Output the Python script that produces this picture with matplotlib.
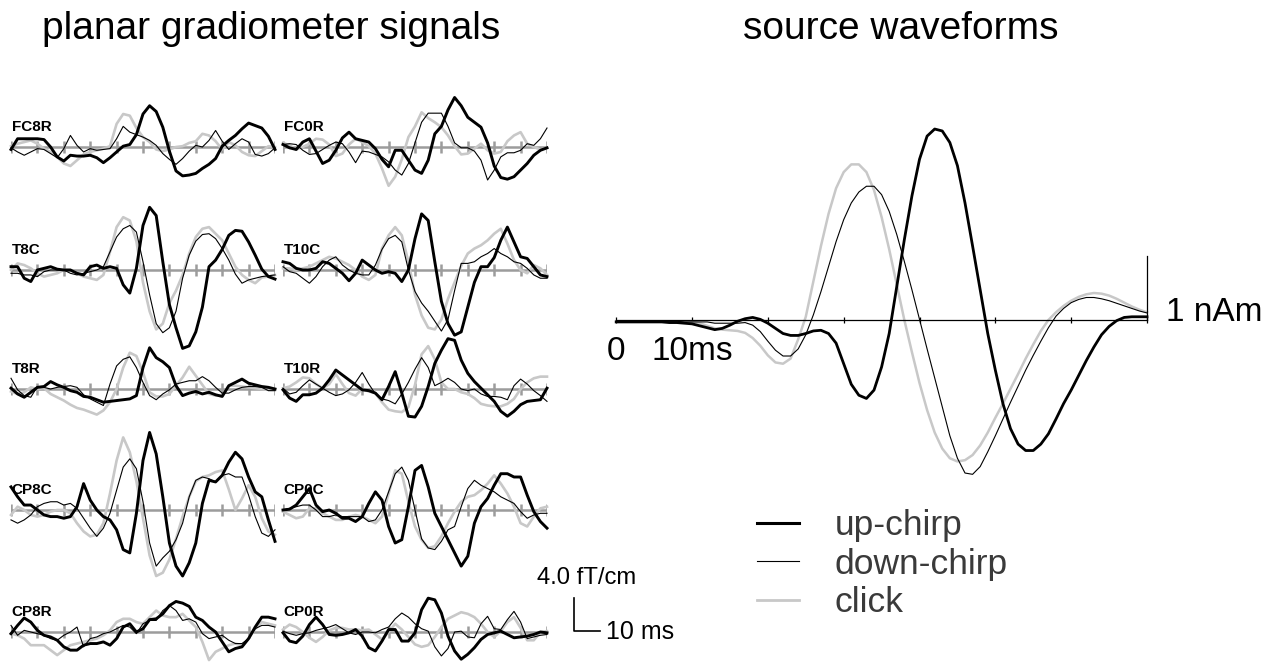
import numpy as np
import matplotlib
matplotlib.use('Agg')
import matplotlib.pyplot as plt
from matplotlib.lines import Line2D

plt.rcParams['font.family'] = ['Liberation Sans', 'DejaVu Sans']

# time axes (ms)
t_grad = np.arange(0, 100.1, 2.5)   # gradiometer traces, one sample per 2.5 ms
t_src = np.arange(0, 71, 1)         # source waveforms, one sample per ms

# planar gradiometer signals (fT/cm): up-chirp / down-chirp / click
fc8r_up = [-0.3, 1.0, 1.0, 1.0, 1.0, 0.9, 0.0, -1.2, -1.7, -1.0, -1.1, -1.1, -1.0, -1.3, -1.9, -1.3, -0.6, 0.1, 0.3, 1.5,
           4.0, 5.0, 4.3, 2.4, -0.5, -2.9, -3.5, -3.4, -3.2, -2.6, -2.1, -1.4, 0.1, 0.8, 1.4, 2.2, 2.9, 2.6, 2.3, 1.3, -0.3]
fc8r_down = [-0.1, -0.6, -1.0, -0.6, -0.2, -0.3, -0.8, -1.3, -0.2, 1.4, 0.2, -0.6, -0.2, -0.4, -0.3, -0.2, 1.0, 2.5, 1.8, 1.5,
             1.2, 0.8, 0.2, -0.8, -1.5, -2.1, -1.4, -0.5, 0.2, 0.0, 0.8, 2.0, 0.7, -0.3, 0.4, 1.0, 0.6, -0.9, -1.1, -0.8, -0.1]
fc8r_click = [0.1, 0.4, 0.6, 0.8, 0.4, -0.2, -0.6, -1.2, -2.0, -2.3, -1.6, -0.9, -0.6, -0.4, -0.2, 0.1, 2.8, 4.0, 3.8, 2.3,
              1.2, 0.6, -0.3, -0.5, -0.3, 0.0, 0.1, 0.5, 0.7, 1.6, 1.4, 0.7, -0.3, 0.6, 0.2, -0.6, -1.0, -1.1, -0.5, 0.1, 0.0]

fc0r_up = [0.3, -0.1, -0.3, 0.6, 1.0, -0.5, -2.0, -1.6, -0.4, 1.1, 1.8, 1.0, 0.8, 0.6, -0.2, -1.5, -2.4, -0.4, -0.4, -1.6,
           -2.8, -3.2, -1.6, 1.6, 2.5, 4.5, 6.0, 5.0, 3.6, 3.0, 2.4, 0.5, -2.3, -3.7, -3.9, -3.6, -2.8, -2.0, -1.0, -0.4, -0.1]
fc0r_down = [0.3, 0.4, 0.3, -0.4, -0.9, -0.8, -0.3, 0.2, 0.6, 0.4, -0.6, -1.9, -0.5, -0.6, -0.9, -1.2, -1.8, -2.8, -3.4, -2.0,
             0.5, 3.0, 4.1, 4.1, 4.1, 2.5, 0.5, -0.1, -0.1, -0.5, -1.6, -4.0, -2.8, -1.2, -0.7, -0.7, -0.4, 0.4, 0.2, 1.0, 2.3]
fc0r_click = [0.5, 0.2, -0.3, 0.0, 0.4, 1.0, 0.9, 0.3, -1.1, -0.8, 0.3, 1.0, 0.6, 0.1, -0.8, -2.6, -4.7, -3.6, -1.5, 1.2,
              2.5, 4.2, 3.5, 3.0, 2.4, 1.4, 0.1, -0.9, -0.8, -0.2, 0.4, -0.4, -0.8, -0.6, 0.7, 1.4, 1.8, 0.4, 0.0, -0.3, -0.1]

t8c_up = [0.4, 0.4, -1.0, -1.4, 0.0, 0.2, 0.4, 0.1, 0.0, 0.0, -0.4, -0.6, 0.4, 0.6, 0.2, 0.4, 0.2, -1.8, -2.8, 0.2,
          5.4, 7.6, 6.6, 1.0, -4.2, -7.0, -9.5, -9.2, -7.5, -4.5, 0.4, 1.2, 2.5, 4.2, 4.8, 4.7, 3.4, 1.8, 0.1, -0.8, -1.1]
t8c_down = [-0.4, -0.4, -0.6, -0.6, -0.8, -0.2, 0.0, 0.0, 0.0, -0.4, -0.6, -0.4, -0.2, 0.0, 0.4, 2.2, 4.0, 5.0, 5.4, 4.6,
            1.0, -3.0, -6.5, -7.6, -7.0, -5.0, -1.0, 1.8, 3.5, 4.3, 4.4, 3.8, 2.6, 1.2, -0.5, -1.6, -1.2, -1.0, -0.8, -0.7, -0.6]
t8c_click = [0.0, 0.8, 0.6, 0.2, -0.4, -0.8, -0.6, -0.4, 0.0, 0.0, -0.4, -0.8, -1.0, -1.2, -0.6, 2.2, 5.2, 6.4, 6.0, 3.5,
             -1.5, -5.0, -7.2, -6.5, -4.0, -2.5, -0.6, 2.0, 4.0, 5.0, 5.2, 4.4, 3.6, 2.0, 0.4, -0.6, -1.2, -1.6, -0.9, -0.8, -0.6]

t10c_up = [1.0, 0.8, 0.2, 0.0, 0.0, 0.2, 1.0, 0.8, 0.2, -0.4, -1.3, -0.4, 1.2, 0.6, 0.0, -0.4, -0.2, -0.4, -1.4, 0.0,
           3.8, 6.8, 6.0, 1.0, -3.8, -6.5, -7.9, -7.5, -4.5, -1.5, 0.4, 0.4, 1.5, 3.6, 5.2, 3.4, 1.6, 1.4, 0.4, -0.6, -0.8]
t10c_down = [0.4, -0.2, -0.4, -1.0, -1.6, -0.8, 0.4, 1.2, 1.6, 0.6, 0.0, -0.4, -0.6, -0.6, 0.6, 2.5, 3.8, 4.2, 3.4, 0.0,
             -2.6, -4.0, -5.0, -6.2, -7.4, -6.0, -2.5, 0.8, 0.8, 1.0, 1.6, 2.0, 2.6, 2.0, 1.6, 1.0, 0.8, 0.2, -0.6, -1.0, -1.0]
t10c_click = [0.2, 0.2, 0.0, 0.2, 0.4, 0.8, 1.2, 1.6, 1.4, 1.0, 0.6, 0.0, -0.8, -1.2, -0.6, 2.6, 4.2, 5.2, 4.2, 1.0,
              -3.0, -5.5, -7.0, -7.2, -6.0, -3.5, -1.5, 0.5, 2.0, 2.6, 3.0, 3.6, 4.4, 5.0, 3.2, 1.2, 0.0, -0.4, 0.6, 0.2, -0.6]

t8r_up = [0.1, -0.6, -1.0, -0.4, 0.2, 0.3, 0.9, 0.5, 0.2, -0.2, -0.4, -0.9, -1.0, -1.3, -1.6, -1.5, -1.4, -1.3, -1.2, -0.8,
          2.6, 5.0, 3.8, 3.3, 2.6, 0.4, -0.8, -0.5, -0.3, -0.6, -0.4, -0.7, -0.9, 0.4, 0.8, 1.2, 0.7, 0.5, 0.3, 0.2, 0.0]
t8r_down = [1.3, -0.1, -0.8, -1.0, 0.3, 0.2, 0.0, 0.2, 0.3, 0.4, 0.2, -0.7, -1.2, -1.6, -2.0, 0.6, 2.8, 3.6, 3.9, 2.6,
            0.8, -0.8, -1.3, -0.6, -0.1, 0.6, 0.8, 1.0, 1.0, 1.5, 1.0, 0.2, -0.5, -0.5, -0.1, 0.2, 0.3, 0.3, 0.2, -0.2, -0.2]
t8r_click = [-0.3, -0.6, -0.4, 0.2, 0.0, 0.1, -0.6, -1.0, -1.4, -1.9, -2.3, -2.5, -2.8, -3.1, -2.6, -1.6, 0.0, 2.6, 4.4, 4.0,
             2.0, -0.4, -0.9, -0.9, -0.6, 0.4, 1.4, 2.7, 1.6, 0.5, -0.6, -0.8, -0.8, 0.4, 0.4, 0.3, 0.2, 0.1, 0.0, -0.1, -0.1]

t10r_up = [-0.1, -1.1, -1.5, -0.7, -0.7, -0.5, 0.1, 1.1, 2.3, 1.7, 1.1, 0.5, -0.1, -0.2, -0.5, -1.3, 0.3, 2.1, -0.5, -3.3,
           -3.4, -2.1, 0.3, 3.1, 4.7, 6.1, 5.9, 3.5, 1.9, 0.9, 0.1, -0.7, -1.5, -2.7, -3.3, -2.7, -1.9, -1.5, -1.4, -1.3, 0.1]
t10r_down = [0.1, -0.6, -0.4, 0.4, 1.1, 0.6, 0.1, -0.4, -0.8, -0.6, -0.1, 0.8, 2.0, 0.6, -0.6, -1.2, -1.4, -1.8, -0.6, 0.8,
             2.4, 3.8, 2.6, 0.4, 0.8, 1.3, 0.8, 0.0, -0.2, 0.0, -0.6, -0.9, -0.9, -1.0, -1.3, 0.4, 1.2, 0.6, -0.2, -0.8, -1.5]
t10r_click = [0.1, 0.3, 0.8, 1.4, 1.3, 0.6, 0.1, 0.6, 1.8, 0.6, -0.5, -0.8, 0.0, -0.3, -0.5, -1.6, -2.5, -2.7, -2.8, -2.2,
              0.5, 4.2, 5.2, 3.6, 0.8, 0.0, 0.0, -0.4, -0.6, -1.1, -1.8, -2.0, -2.1, -2.1, -1.8, -1.2, 0.0, 0.8, 1.3, 1.5, 1.5]

cp8c_up = [2.8, 1.6, 0.6, 0.6, 0.0, -0.6, -0.8, -0.8, -1.0, -0.8, 0.4, 3.2, 1.2, 0.0, -0.8, -1.2, -2.4, -4.8, -5.2, -0.4,
           6.0, 9.4, 6.8, 1.6, -4.0, -6.8, -8.0, -6.4, -4.0, 0.8, 3.6, 3.4, 4.2, 5.8, 7.0, 6.2, 4.0, 2.2, 1.6, -1.2, -3.8]
cp8c_down = [-1.2, -1.6, -1.2, -0.6, 0.4, 0.8, 1.0, 1.0, 0.6, 0.8, 0.2, -1.0, -2.2, -3.2, -2.2, -0.4, 2.4, 5.2, 6.2, 5.0,
             1.0, -4.0, -6.8, -5.8, -5.0, -3.6, -1.6, 1.6, 3.6, 4.0, 3.8, 3.4, 4.2, 4.4, 4.0, 4.0, 1.8, -0.8, -2.8, -3.2, -2.4]
cp8c_click = [-0.6, 0.4, 0.0, -0.6, -0.8, -0.6, -0.2, 0.0, 0.0, -0.4, -1.6, -2.6, -3.2, -3.0, -1.6, 2.0, 6.0, 8.8, 7.0, 3.5,
              -1.0, -5.5, -8.0, -7.6, -6.0, -3.5, -0.8, 1.6, 3.5, 4.0, 4.2, 4.6, 4.8, 2.5, 0.0, 1.4, 3.0, 1.6, -1.0, -2.6, -3.0]

cp0c_up = [0.0, 0.1, 0.6, 1.6, 2.6, 0.6, -0.2, 0.0, -0.4, -1.0, -1.0, -1.4, -0.8, 0.8, 2.2, 1.2, -2.0, -4.0, -3.6, 0.4,
           4.8, 5.4, 2.8, -0.4, -2.0, -3.6, -5.2, -6.8, -5.6, -1.6, 0.4, 1.4, 3.0, 4.4, 4.4, 4.0, 4.0, 1.8, -0.2, -1.4, -2.2]
cp0c_down = [0.0, 0.2, 0.4, 0.6, 0.6, 0.0, -0.8, -0.8, -0.6, -0.8, -0.8, -0.8, -0.8, -1.4, -1.2, 0.0, 2.2, 4.4, 5.2, 3.6,
             0.0, -3.5, -4.6, -4.8, -3.8, -2.4, -2.0, 0.4, 2.6, 3.6, 3.0, 2.6, 2.2, 1.6, 1.2, 0.8, -0.2, -1.0, -0.6, -0.4, -0.4]
cp0c_click = [-0.2, -0.6, -1.0, -0.8, 0.2, 0.2, -0.4, -0.8, -1.2, -1.2, -0.8, -0.6, -0.8, -1.2, -1.6, -0.8, 2.0, 4.8, 4.4, 1.0,
              -2.0, -3.6, -4.6, -4.4, -3.2, -1.6, -0.2, 1.0, 1.6, 1.8, 2.4, 3.2, 4.2, 3.2, 2.0, 0.4, -1.6, -2.0, -0.8, 0.2, 0.4]

cp8r_up = [-0.2, 0.8, 1.7, 1.2, 0.2, -0.4, -0.6, -1.0, -1.8, -2.2, -2.2, -1.6, -1.4, -1.4, -1.2, -1.6, -0.8, 0.6, 1.0, 0.0,
           0.4, 1.5, 1.6, 2.2, 3.2, 3.7, 3.5, 3.1, 1.8, 1.4, 0.6, 0.0, -1.2, -2.4, -2.0, -1.8, -0.8, 0.6, 1.8, 1.8, 1.6]
cp8r_down = [0.8, -0.4, 0.2, 0.0, -0.2, -0.4, -0.8, -1.0, -0.4, 0.0, 0.6, -1.8, -0.8, -0.6, -0.2, 0.0, 0.4, 0.8, 0.6, -0.2,
             1.0, 1.4, 1.4, 2.6, 3.2, 2.6, 1.4, 1.6, 1.2, -0.2, -0.8, -0.6, -0.4, -1.0, -1.4, -1.4, -0.8, 0.4, 0.8, 0.8, 0.6]
cp8r_click = [-0.2, -0.4, -0.8, -1.6, -1.6, -1.6, -2.2, -2.8, -2.2, -1.6, -1.4, -1.2, -1.0, -0.8, -0.4, 0.2, 1.2, 1.6, 1.6, 1.2,
              1.0, 1.8, 2.6, 2.0, 1.8, 1.8, 2.2, 1.4, 0.6, -1.2, -3.4, -2.4, -2.0, -1.6, -1.4, -1.6, -0.8, 0.4, 1.2, 1.0, 0.8]

cp0r_up = [-0.1, -1.1, -1.3, -0.5, 0.9, 1.8, 0.9, -0.3, -0.4, -0.3, -0.1, 0.3, -0.5, -1.9, -2.3, -1.1, 0.3, 0.3, -1.1, -1.1,
           -0.1, 2.7, 4.1, 3.9, 2.3, -0.5, -2.3, -3.3, -2.7, -1.9, -0.9, -0.3, -0.1, 0.1, -0.3, -0.7, -0.6, -0.5, -0.3, 0.0, -0.1]
cp0r_down = [0.1, -0.2, -0.4, -0.2, -0.1, 0.2, 0.4, 0.6, 0.9, 0.4, -0.1, -0.3, 0.0, 0.0, -0.1, 0.3, 0.6, 1.6, 2.3, 1.8,
             1.0, 0.4, 0.1, -1.8, -2.9, -2.0, 0.0, 0.1, -0.6, -0.7, 1.0, 1.9, 0.4, 0.3, 1.5, 2.5, 1.2, -0.8, -0.6, -0.4, -0.3]
cp0r_click = [0.3, 0.9, 0.6, 0.0, -0.7, -1.2, -0.6, 0.2, 0.5, 0.5, 0.3, 0.3, 0.2, 0.3, -0.3, -0.9, 0.0, 1.0, 0.3, -0.6,
              -1.5, -1.8, -1.6, -0.6, 0.6, 1.6, 2.0, 2.4, 2.2, 1.8, 1.0, 0.0, -0.6, 0.1, 1.2, 1.8, 0.5, -1.0, -1.0, 0.0, 0.1]

channels = ['FC8R', 'FC0R', 'T8C', 'T10C', 'T8R', 'T10R', 'CP8C', 'CP0C', 'CP8R', 'CP0R']
grad_up = [fc8r_up, fc0r_up, t8c_up, t10c_up, t8r_up, t10r_up, cp8c_up, cp0c_up, cp8r_up, cp0r_up]
grad_down = [fc8r_down, fc0r_down, t8c_down, t10c_down, t8r_down, t10r_down, cp8c_down, cp0c_down, cp8r_down, cp0r_down]
grad_click = [fc8r_click, fc0r_click, t8c_click, t10c_click, t8r_click, t10r_click, cp8c_click, cp0c_click, cp8r_click, cp0r_click]

# source waveforms (nAm)
src_up = [-0.03, -0.03, -0.03, -0.03, -0.03, -0.03, -0.03, -0.04, -0.04, -0.05, -0.06, -0.09, -0.12, -0.15, -0.13, -0.08,
          -0.02, 0.02, 0.04, 0.01, -0.05, -0.13, -0.21, -0.24, -0.24, -0.21, -0.17, -0.16, -0.21, -0.36, -0.68, -1.0,
          -1.17, -1.22, -1.09, -0.73, -0.21, 0.52, 1.25, 1.93, 2.5, 2.86, 2.97, 2.94, 2.76, 2.4, 1.82, 1.15, 0.47, -0.21,
          -0.78, -1.3, -1.69, -1.93, -2.03, -2.03, -1.93, -1.77, -1.54, -1.3, -1.09, -0.86, -0.63, -0.42, -0.23, -0.1,
          -0.01, 0.04, 0.05, 0.05, 0.05]
src_down = [-0.02, -0.02, -0.02, -0.02, -0.02, -0.02, -0.02, -0.02, -0.02, -0.03, -0.03, -0.03, -0.03, -0.05, -0.05,
            -0.05, -0.05, -0.04, -0.08, -0.18, -0.33, -0.47, -0.56, -0.56, -0.45, -0.23, 0.08, 0.44, 0.83, 1.22, 1.56,
            1.82, 1.99, 2.08, 2.08, 1.95, 1.69, 1.33, 0.91, 0.47, 0.01, -0.45, -0.9, -1.35, -1.8, -2.15, -2.38, -2.4,
            -2.28, -2.05, -1.8, -1.54, -1.28, -1.03, -0.78, -0.55, -0.33, -0.12, 0.06, 0.18, 0.27, 0.32, 0.35, 0.35,
            0.33, 0.3, 0.26, 0.22, 0.18, 0.14, 0.11]
src_click = [-0.02, -0.02, -0.02, -0.02, -0.02, -0.02, -0.02, -0.02, -0.02, -0.02, -0.03, -0.05, -0.09, -0.13, -0.15,
             -0.16, -0.17, -0.2, -0.28, -0.4, -0.55, -0.66, -0.68, -0.6, -0.3, 0.05, 0.6, 1.15, 1.65, 2.05, 2.3, 2.42,
             2.42, 2.3, 2.02, 1.6, 1.1, 0.55, 0.0, -0.5, -0.98, -1.4, -1.75, -2.0, -2.15, -2.2, -2.18, -2.1, -1.95,
             -1.75, -1.52, -1.3, -1.07, -0.84, -0.6, -0.38, -0.17, 0.0, 0.12, 0.22, 0.3, 0.36, 0.4, 0.42, 0.41, 0.38,
             0.33, 0.27, 0.21, 0.16, 0.12]

legend_labels = ['up-chirp', 'down-chirp', 'click']

# styles
W, H = 1272, 664
click_col = '#c8c8c8'
base_col = '#9c9c9c'

fig = plt.figure(figsize=(W / 100, H / 100), dpi=100)


def px_axes(left, right, top, bottom):
    # axes placed in pixel coordinates of the figure (origin top-left)
    return fig.add_axes([left / W, 1 - bottom / H, (right - left) / W, (bottom - top) / H])


# ---- planar gradiometer signals ----
row_base = [147, 270, 389, 510, 632]     # baseline of each row, px from top
col_left = [11, 283]                     # x of t=0 for each column
col_w = 264                              # px for 100 ms
ft_px = 8.25                             # px per fT/cm
yr = 7.0

for i, name in enumerate(channels):
    row, col = divmod(i, 2)
    b = row_base[row]
    ax = px_axes(col_left[col], col_left[col] + col_w, b - yr * ft_px, b + yr * ft_px)
    ax.set_xlim(0, 100)
    ax.set_ylim(-yr, yr)
    ax.axis('off')
    ax.axhline(0, color=base_col, lw=1.8, zorder=1)
    ax.vlines(np.arange(0, 101, 10), -0.75, 0.75, color=base_col, lw=1.8, zorder=1)
    ax.text(0.3, 2.4, name, fontsize=11, fontweight='bold', ha='left', va='center', zorder=1.5)
    ax.plot(t_grad, grad_click[i], color=click_col, lw=1.9, clip_on=False, zorder=2)
    ax.plot(t_grad, grad_down[i], color='black', lw=0.8, clip_on=False, zorder=3)
    ax.plot(t_grad, grad_up[i], color='black', lw=2.1, clip_on=False, zorder=4)

# scale bar: 4.0 fT/cm, 10 ms
axb = px_axes(574, 574 + col_w, 631 - yr * ft_px, 631 + yr * ft_px)
axb.set_xlim(0, 100)
axb.set_ylim(-yr, yr)
axb.axis('off')
axb.plot([0, 0, 10], [4, 0, 0], color='black', lw=1.2, clip_on=False)
fig.text(537 / W, 1 - 578 / H, '4.0 fT/cm', fontsize=17.2, ha='left', va='center')
fig.text(606 / W, 1 - 632 / H, '10 ms', fontsize=18, ha='left', va='center')

fig.text(271 / W, 1 - 29 / H, 'planar gradiometer signals', fontsize=28, ha='center', va='center')
fig.text(901 / W, 1 - 29 / H, 'source waveforms', fontsize=28, ha='center', va='center')

# ---- source waveforms ----
nam_px = 64.3
y_lo, y_hi = -2.8, 3.2
axs = px_axes(616.2, 1147, 320 - y_hi * nam_px, 320 - y_lo * nam_px)
axs.set_xlim(0, 70)
axs.set_ylim(y_lo, y_hi)
for s in ['top', 'left', 'right']:
    axs.spines[s].set_visible(False)
axs.spines['bottom'].set_position(('data', 0))
axs.spines['bottom'].set_linewidth(0.9)
axs.set_yticks([])
axs.set_xticks(np.arange(0, 71, 10))
axs.set_xticklabels(['0', '10ms', '', '', '', '', '', ''])
axs.tick_params(axis='x', direction='inout', length=5, width=0.9, labelsize=24, pad=9)
axs.patch.set_visible(False)

axs.plot(t_src, src_click, color=click_col, lw=1.8, clip_on=False, zorder=2)
axs.plot(t_src, src_down, color='black', lw=0.8, clip_on=False, zorder=3)
axs.plot(t_src, src_up, color='black', lw=2.0, clip_on=False, zorder=4)

# 1 nAm scale bar at the end of the time axis
axs.plot([70, 70], [0, 1], color='black', lw=0.9, clip_on=False)
fig.text(1166 / W, 1 - 312 / H, '1 nAm', fontsize=24, ha='left', va='center')

handles = [Line2D([], [], color='black', lw=2.2),
           Line2D([], [], color='black', lw=0.8),
           Line2D([], [], color=click_col, lw=2.0)]
leg = fig.legend(handles, legend_labels, loc='upper left', bbox_to_anchor=(757 / W, 1 - 509 / H),
                 frameon=False, fontsize=25.5, handlelength=1.2, handletextpad=1.0, labelspacing=0.16,
                 borderpad=0, borderaxespad=0)
for txt in leg.get_texts():
    txt.set_color('#3a3a3a')

fig.savefig('out.png', dpi=100)
